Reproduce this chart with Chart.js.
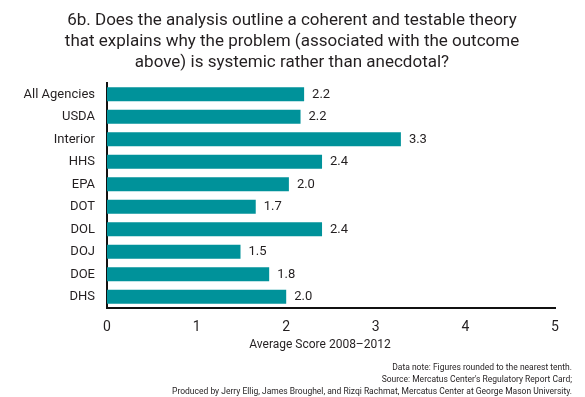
<!DOCTYPE html>
<html>
<head>
<meta charset="utf-8">
<script src="https://cdn.jsdelivr.net/npm/chart.js@4.4.0/dist/chart.umd.min.js"></script>
<style>
  html, body { margin: 0; padding: 0; background: #fff; }
  #wrap { width: 585px; height: 397px; position: relative; }
</style>
</head>
<body>
<div id="wrap"><canvas id="chart"></canvas></div>
<script>
// data
const agencies = ["All Agencies", "USDA", "Interior", "HHS", "EPA", "DOT", "DOL", "DOJ", "DOE", "DHS"];
const scores = [2.2, 2.16, 3.28, 2.4, 2.03, 1.66, 2.4, 1.49, 1.81, 2.0];
const xTicks = [0, 1, 2, 3, 4, 5];
const titleLines = [
  "6b. Does the analysis outline a coherent and testable theory",
  "that explains why the problem (associated with the outcome",
  "above) is systemic rather than anecdotal?"
];
const axisTitle = "Average Score 2008\u20132012";
const notes = [
  "Data note: Figures rounded to the nearest tenth.",
  "Source: Mercatus Center's Regulatory Report Card;",
  "Produced by Jerry Ellig, James Broughel, and Rizqi Rachmat, Mercatus Center at George Mason University."
];

const FONT = "Roboto, 'Open Sans', sans-serif";
const INK = "#231f20";

// value labels at the end of each bar
const valueLabels = {
  id: "valueLabels",
  afterDatasetsDraw(chart) {
    const c = chart.ctx;
    const meta = chart.getDatasetMeta(0);
    c.save();
    c.font = "13px " + FONT;
    c.fillStyle = INK;
    c.textAlign = "left";
    c.textBaseline = "middle";
    meta.data.forEach((bar, i) => {
      c.fillText(scores[i].toFixed(1), bar.x + 8, bar.y);
    });
    c.restore();
  }
};

// title, axis title and source notes
const extraText = {
  id: "extraText",
  afterDraw(chart) {
    const c = chart.ctx;
    c.save();
    c.fillStyle = INK;
    c.textBaseline = "middle";
    c.textAlign = "center";
    c.font = "17px " + FONT;
    titleLines.forEach((line, i) => {
      c.fillText(line, 292, 21 + i * 21);
    });
    c.font = "12px " + FONT;
    c.fillText(axisTitle, 320, 345);
    c.font = "8.5px " + FONT;
    c.textAlign = "right";
    notes.forEach((line, i) => {
      c.fillText(line, 572, 368 + i * 12);
    });
    c.restore();
  }
};

new Chart(document.getElementById("chart"), {
  type: "bar",
  data: {
    labels: agencies,
    datasets: [{
      data: scores,
      backgroundColor: "#00929a",
      borderWidth: 0,
      categoryPercentage: 1,
      barPercentage: 0.62
    }]
  },
  options: {
    indexAxis: "y",
    responsive: true,
    maintainAspectRatio: false,
    animation: false,
    layout: { padding: { top: 83, right: 30, bottom: 39, left: 0 } },
    plugins: {
      legend: { display: false },
      tooltip: { enabled: false },
      title: { display: false }
    },
    scales: {
      x: {
        min: 0,
        max: 5,
        afterBuildTicks(scale) {
          scale.ticks = xTicks.map(v => ({ value: v }));
        },
        afterFit(scale) { scale.height = 50; },
        grid: { display: false, drawTicks: false },
        border: { display: true, color: "#111", width: 2 },
        ticks: {
          color: INK,
          padding: 11,
          font: { family: FONT, size: 14 }
        }
      },
      y: {
        afterFit(scale) { scale.width = 107; },
        grid: { display: false, drawTicks: false },
        border: { display: true, color: "#111", width: 2 },
        ticks: {
          color: INK,
          padding: 12,
          font: { family: FONT, size: 13 }
        }
      }
    }
  },
  plugins: [valueLabels, extraText]
});
</script>
</body>
</html>
